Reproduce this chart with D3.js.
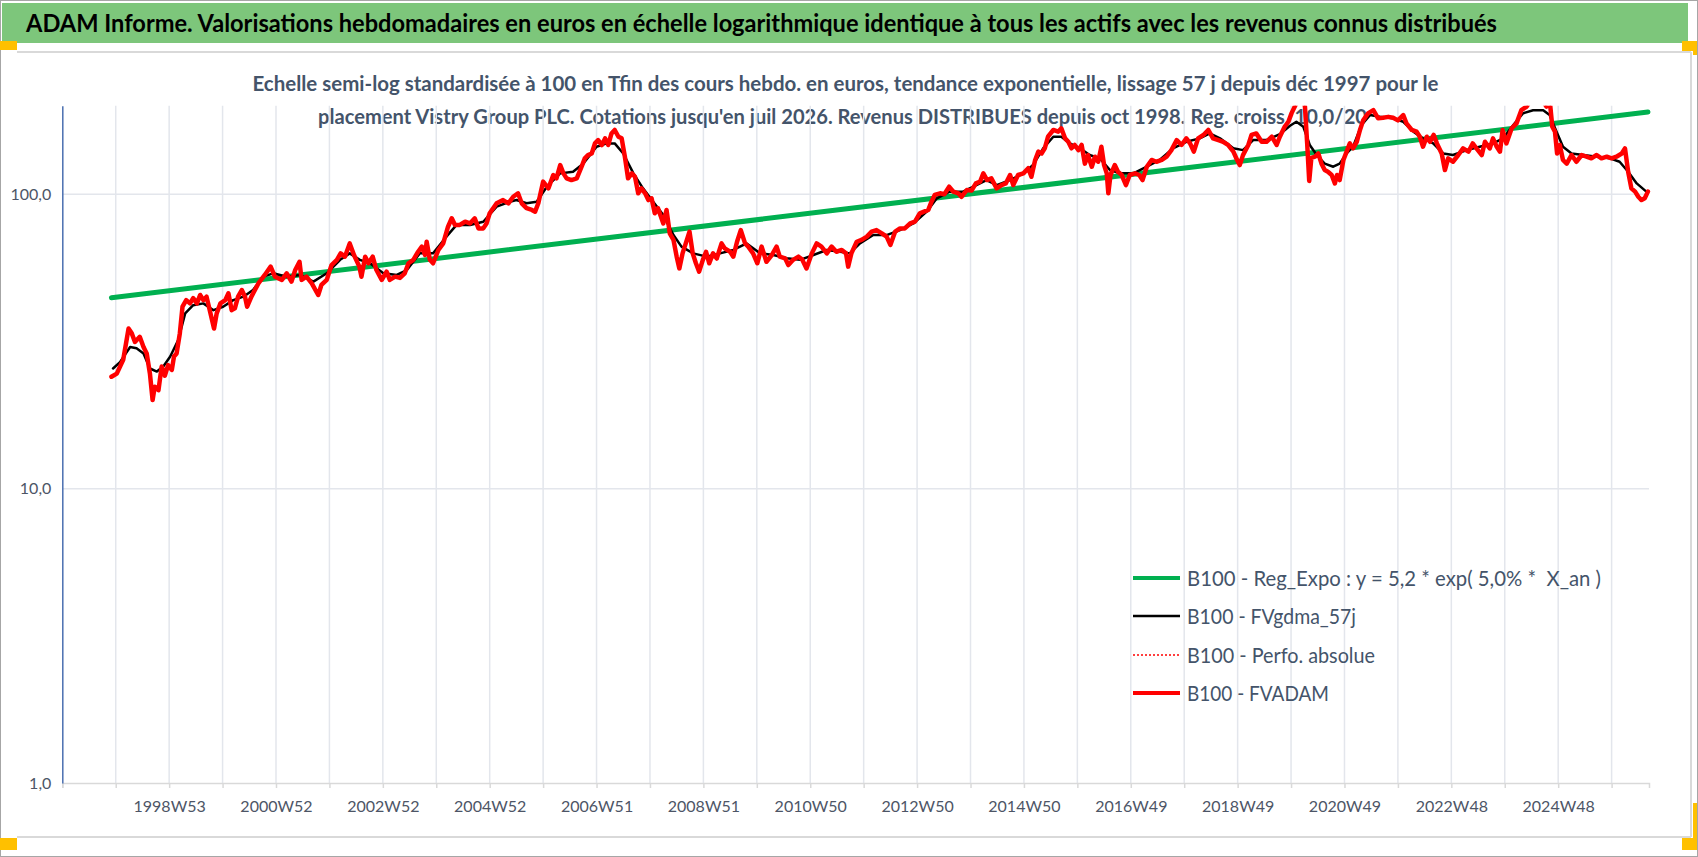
<!DOCTYPE html>
<html>
<head>
<meta charset="utf-8">
<script src="https://cdn.jsdelivr.net/npm/d3@7"></script>
<style>
  body { margin: 0; background: #fff; }
  svg { display: block; }
  text { font-family: Lato, "Open Sans", sans-serif; }
</style>
</head>
<body>
<div id="chart"></div>
<script>
// frame and plot area
const FRAME_WIDTH = 1698;
const FRAME_HEIGHT = 857;
const PLOT = {left: 62.3, right: 1649, top: 105.7, bottom: 783};

// texts
const TITLE = "ADAM Informe. Valorisations hebdomadaires en euros en échelle logarithmique identique à tous les actifs avec les revenus connus distribués";
const SUBTITLE = [
  "Echelle semi-log standardisée à 100 en Tfin des cours hebdo. en euros, tendance exponentielle, lissage 57 j depuis déc 1997 pour le",
  "placement Vistry Group PLC. Cotations jusqu'en juil 2026. Revenus DISTRIBUES depuis oct 1998. Reg. croiss. 10,0/20"
];
const LEGEND_LABELS = [
  "B100 - Reg_Expo : y = 5,2 * exp( 5,0% *  X_an )",
  "B100 - FVgdma_57j",
  "B100 - Perfo. absolue",
  "B100 - FVADAM"
];

// x axis: one gridline per 52 weeks, a label every 104 weeks
const X_START = 1997.0;
const X_END = 2026.70;
const X_TICK_LABELS = ["1998W53", "2000W52", "2002W52", "2004W52", "2006W51", "2008W51", "2010W50",
                       "2012W50", "2014W50", "2016W49", "2018W49", "2020W49", "2022W48", "2024W48"];
const X_LABEL_YEARS = d3.range(1999, 2026, 2);
const Y_TICKS = [1, 10, 100];

// B100 - FVADAM (weekly)
const fvadamDates = [
  1997.92, 1998.02, 1998.14, 1998.24, 1998.30, 1998.36, 1998.45, 1998.52, 1998.58, 1998.64,
  1998.69, 1998.73, 1998.80, 1998.86, 1998.92, 1998.98, 1999.05, 1999.09, 1999.14, 1999.20,
  1999.25, 1999.32, 1999.39, 1999.45, 1999.52, 1999.58, 1999.64, 1999.70, 1999.76, 1999.84,
  1999.89, 1999.96, 2000.05, 2000.11, 2000.17, 2000.23, 2000.29, 2000.36, 2000.42, 2000.46,
  2000.54, 2000.67, 2000.79, 2000.90, 2000.98, 2001.11, 2001.20, 2001.29, 2001.36, 2001.44,
  2001.48, 2001.57, 2001.67, 2001.79, 2001.85, 2001.95, 2002.04, 2002.14, 2002.21, 2002.29,
  2002.38, 2002.46, 2002.56, 2002.60, 2002.67, 2002.73, 2002.81, 2002.88, 2002.98, 2003.07,
  2003.13, 2003.23, 2003.32, 2003.41, 2003.48, 2003.57, 2003.66, 2003.73, 2003.79, 2003.82,
  2003.88, 2003.94, 2004.04, 2004.13, 2004.22, 2004.29, 2004.35, 2004.44, 2004.54, 2004.63,
  2004.72, 2004.79, 2004.88, 2004.94, 2005.00, 2005.13, 2005.25, 2005.35, 2005.44, 2005.53,
  2005.60, 2005.69, 2005.79, 2005.85, 2005.91, 2006.00, 2006.10, 2006.19, 2006.25, 2006.32,
  2006.38, 2006.44, 2006.53, 2006.63, 2006.72, 2006.78, 2006.84, 2006.91, 2006.97, 2007.03,
  2007.10, 2007.16, 2007.22, 2007.28, 2007.34, 2007.41, 2007.47, 2007.53, 2007.59, 2007.66,
  2007.72, 2007.78, 2007.84, 2007.91, 2007.97, 2008.03, 2008.09, 2008.15, 2008.25, 2008.31,
  2008.37, 2008.44, 2008.50, 2008.55, 2008.61, 2008.67, 2008.74, 2008.80, 2008.86, 2008.92,
  2008.99, 2009.05, 2009.11, 2009.18, 2009.25, 2009.34, 2009.40, 2009.50, 2009.56, 2009.63,
  2009.70, 2009.78, 2009.84, 2009.93, 2010.01, 2010.09, 2010.18, 2010.28, 2010.37, 2010.43,
  2010.53, 2010.59, 2010.68, 2010.78, 2010.85, 2010.93, 2011.03, 2011.12, 2011.21, 2011.31,
  2011.40, 2011.49, 2011.59, 2011.67, 2011.71, 2011.77, 2011.87, 2011.96, 2012.06, 2012.15,
  2012.24, 2012.34, 2012.43, 2012.50, 2012.59, 2012.68, 2012.77, 2012.87, 2012.96, 2013.05,
  2013.21, 2013.27, 2013.33, 2013.43, 2013.51, 2013.60, 2013.68, 2013.77, 2013.83, 2013.93,
  2014.02, 2014.10, 2014.18, 2014.24, 2014.31, 2014.39, 2014.49, 2014.58, 2014.66, 2014.74,
  2014.80, 2014.89, 2014.99, 2015.08, 2015.14, 2015.21, 2015.27, 2015.33, 2015.39, 2015.45,
  2015.55, 2015.64, 2015.70, 2015.77, 2015.83, 2015.89, 2015.95, 2016.02, 2016.08, 2016.14,
  2016.20, 2016.27, 2016.33, 2016.39, 2016.45, 2016.50, 2016.55, 2016.58, 2016.62, 2016.70,
  2016.76, 2016.83, 2016.91, 2016.98, 2017.08, 2017.16, 2017.22, 2017.30, 2017.39, 2017.48,
  2017.58, 2017.67, 2017.76, 2017.86, 2017.95, 2018.04, 2018.11, 2018.18, 2018.26, 2018.36,
  2018.45, 2018.54, 2018.64, 2018.73, 2018.82, 2018.92, 2018.99, 2019.04, 2019.10, 2019.20,
  2019.26, 2019.35, 2019.45, 2019.54, 2019.64, 2019.73, 2019.79, 2019.88, 2019.95, 2020.01,
  2020.07, 2020.16, 2020.23, 2020.26, 2020.30, 2020.34, 2020.38, 2020.45, 2020.51, 2020.57,
  2020.63, 2020.69, 2020.76, 2020.82, 2020.86, 2020.91, 2020.98, 2021.04, 2021.10, 2021.16,
  2021.23, 2021.29, 2021.35, 2021.44, 2021.54, 2021.63, 2021.72, 2021.82, 2021.91, 2022.00,
  2022.10, 2022.16, 2022.26, 2022.35, 2022.41, 2022.47, 2022.54, 2022.60, 2022.67, 2022.73,
  2022.82, 2022.88, 2022.94, 2023.03, 2023.13, 2023.22, 2023.32, 2023.40, 2023.47, 2023.57,
  2023.63, 2023.72, 2023.78, 2023.85, 2023.91, 2023.96, 2024.03, 2024.13, 2024.22, 2024.31,
  2024.41, 2024.53, 2024.66, 2024.78, 2024.84, 2024.89, 2024.94, 2024.98, 2025.03, 2025.09,
  2025.16, 2025.25, 2025.34, 2025.44, 2025.53, 2025.62, 2025.72, 2025.81, 2025.91, 2026.00,
  2026.09, 2026.19, 2026.25, 2026.31, 2026.37, 2026.44, 2026.50, 2026.56, 2026.62, 2026.68
];
const fvadamValues = [
  24.0, 24.6, 27.4, 35.0, 33.7, 31.5, 32.8, 30.3, 28.8, 24.6,
  20.0, 22.2, 21.6, 26.0, 24.2, 26.3, 25.3, 28.1, 28.8, 33.7,
  41.5, 43.7, 42.6, 44.4, 42.6, 45.5, 43.7, 44.9, 40.4, 35.0,
  39.4, 42.6, 43.7, 46.1, 40.4, 41.0, 44.9, 47.3, 44.9, 41.5,
  44.9, 49.8, 53.2, 56.8, 52.5, 51.2, 53.9, 50.5, 55.3, 59.0,
  51.2, 52.5, 49.8, 45.5, 49.2, 51.2, 57.5, 59.9, 63.0, 61.4,
  68.1, 62.2, 56.8, 52.5, 61.4, 58.3, 61.4, 55.3, 51.2, 54.6,
  51.2, 52.5, 52.0, 53.9, 58.3, 59.9, 63.8, 66.4, 62.2, 69.0,
  59.9, 58.3, 64.7, 68.1, 77.6, 82.9, 78.7, 78.7, 80.7, 79.6,
  82.9, 76.6, 76.6, 79.6, 86.2, 93.2, 95.6, 93.2, 98.1, 100.8,
  93.2, 89.7, 88.5, 87.3, 93.2, 110.4, 104.8, 116.3, 113.3, 125.7,
  117.8, 113.3, 111.8, 113.3, 124.1, 132.5, 135.9, 137.6, 148.9, 152.8,
  147.0, 154.9, 147.1, 161.0, 165.4, 156.9, 154.9, 134.2, 113.3, 117.8,
  114.7, 100.8, 104.8, 100.8, 95.6, 96.9, 86.2, 89.7, 79.6, 88.5,
  73.7, 70.0, 61.4, 56.0, 63.0, 68.1, 74.7, 63.0, 58.3, 54.6,
  59.9, 63.8, 58.3, 63.0, 60.5, 68.1, 65.5, 63.8, 61.4, 69.0,
  75.6, 68.1, 66.4, 63.0, 58.3, 66.4, 59.0, 62.2, 66.4, 61.4,
  60.6, 57.5, 59.9, 61.4, 60.0, 56.0, 63.0, 68.1, 66.4, 63.0,
  66.4, 63.8, 64.7, 63.0, 56.8, 63.0, 69.0, 70.0, 71.8, 74.7,
  75.6, 73.7, 71.8, 67.3, 74.7, 76.6, 76.6, 79.6, 80.7, 86.2,
  88.5, 94.4, 99.5, 100.8, 100.0, 106.1, 102.1, 100.8, 98.1, 103.4,
  103.0, 108.9, 110.4, 117.8, 111.8, 113.3, 104.8, 107.5, 108.9, 116.3,
  107.5, 116.3, 117.8, 122.6, 114.7, 130.8, 139.6, 137.6, 143.3, 156.9,
  165.4, 163.2, 167.6, 154.9, 150.8, 143.3, 147.1, 141.3, 147.1, 127.1,
  135.9, 124.1, 134.2, 129.0, 145.1, 125.7, 117.8, 100.8, 116.3, 125.7,
  119.3, 116.3, 107.5, 116.3, 117.8, 116.3, 111.8, 124.1, 130.8, 129.0,
  130.8, 134.2, 141.3, 152.8, 147.1, 154.9, 148.9, 139.6, 154.9, 159.1,
  165.4, 154.9, 152.8, 150.8, 147.1, 139.6, 130.8, 125.7, 135.9, 147.1,
  159.1, 161.0, 150.8, 150.8, 156.9, 147.1, 156.9, 169.6, 176.4, 188.7,
  198.7, 215.0, 215.0, 198.7, 150.8, 111.0, 133.0, 134.2, 137.6, 127.1,
  120.9, 119.3, 116.3, 108.9, 116.3, 111.8, 130.8, 139.6, 148.9, 143.3,
  150.8, 165.4, 178.3, 188.3, 193.1, 181.2, 182.0, 183.3, 182.0, 178.3,
  185.9, 174.2, 165.4, 163.2, 156.9, 145.1, 156.9, 150.8, 159.1, 148.9,
  137.6, 120.9, 132.5, 129.0, 136.0, 143.3, 139.6, 148.9, 143.3, 136.0,
  150.8, 143.3, 154.9, 145.1, 139.6, 165.4, 148.9, 167.6, 174.2, 193.1,
  198.7, 215.0, 215.0, 198.7, 210.0, 169.6, 163.2, 137.6, 147.1, 130.8,
  127.1, 136.0, 129.0, 136.0, 134.2, 132.5, 136.0, 132.5, 134.2, 132.5,
  134.2, 137.6, 143.3, 119.3, 104.8, 102.1, 98.1, 95.6, 96.9, 102.1
];

// B100 - FVgdma_57j (smoothed)
const fvgdmaDates = [
  1997.95, 1998.08, 1998.27, 1998.39, 1998.52, 1998.64, 1998.77, 1998.89, 1999.02, 1999.17,
  1999.30, 1999.45, 1999.64, 1999.83, 2000.01, 2000.20, 2000.39, 2000.57, 2000.76, 2000.95,
  2001.20, 2001.45, 2001.70, 2001.95, 2002.20, 2002.38, 2002.57, 2002.76, 2003.01, 2003.26,
  2003.45, 2003.69, 2003.94, 2004.19, 2004.38, 2004.63, 2004.88, 2005.13, 2005.38, 2005.50,
  2005.69, 2005.88, 2006.07, 2006.32, 2006.56, 2006.75, 2007.00, 2007.19, 2007.34, 2007.50,
  2007.69, 2007.87, 2008.06, 2008.25, 2008.44, 2008.59, 2008.81, 2009.06, 2009.31, 2009.56,
  2009.81, 2010.06, 2010.31, 2010.56, 2010.81, 2011.06, 2011.31, 2011.56, 2011.74, 2011.93,
  2012.18, 2012.43, 2012.68, 2012.93, 2013.18, 2013.37, 2013.61, 2013.86, 2014.11, 2014.30,
  2014.49, 2014.74, 2014.99, 2015.17, 2015.36, 2015.55, 2015.70, 2015.86, 2016.05, 2016.23,
  2016.42, 2016.61, 2016.80, 2017.05, 2017.30, 2017.54, 2017.79, 2018.04, 2018.29, 2018.48,
  2018.67, 2018.92, 2019.10, 2019.29, 2019.54, 2019.79, 2019.98, 2020.10, 2020.23, 2020.35,
  2020.48, 2020.63, 2020.79, 2020.91, 2021.04, 2021.16, 2021.32, 2021.48, 2021.66, 2021.91,
  2022.10, 2022.29, 2022.47, 2022.66, 2022.85, 2023.03, 2023.29, 2023.53, 2023.78, 2023.97,
  2024.16, 2024.34, 2024.53, 2024.72, 2024.84, 2024.97, 2025.09, 2025.25, 2025.47, 2025.72,
  2025.97, 2026.15, 2026.31, 2026.47, 2026.65
];
const fvgdmaValues = [
  25.6, 26.9, 30.3, 30.0, 28.8, 25.6, 25.0, 26.0, 28.1, 32.0,
  39.4, 42.0, 42.6, 40.4, 41.5, 43.7, 44.9, 47.3, 52.5, 53.9,
  52.5, 53.2, 50.5, 53.9, 59.9, 63.0, 59.9, 58.3, 53.9, 53.2,
  55.3, 63.0, 63.0, 71.8, 78.7, 78.7, 80.7, 90.8, 94.4, 95.6,
  93.2, 94.4, 106.1, 117.8, 119.3, 127.1, 145.1, 148.9, 148.9, 137.6,
  117.8, 104.8, 94.4, 85.0, 72.7, 66.4, 63.0, 61.4, 63.0, 64.7,
  68.1, 63.0, 62.2, 60.6, 59.9, 62.2, 64.7, 63.8, 63.0, 68.1,
  72.7, 72.7, 75.6, 79.6, 87.3, 96.9, 102.1, 102.1, 107.5, 111.8,
  107.5, 111.8, 117.8, 125.7, 143.3, 156.9, 156.9, 148.9, 143.3, 136.0,
  132.5, 120.9, 117.8, 117.8, 124.1, 130.8, 143.3, 150.8, 154.9, 161.0,
  154.9, 143.3, 141.3, 152.8, 152.8, 160.0, 171.0, 176.4, 169.6, 147.1,
  136.0, 127.1, 124.1, 127.1, 137.6, 145.1, 171.9, 185.9, 183.3, 181.2,
  176.4, 163.2, 154.9, 148.9, 137.6, 136.0, 141.3, 145.1, 148.9, 154.9,
  171.9, 188.3, 193.1, 193.1, 185.9, 163.2, 145.1, 137.6, 136.0, 134.2,
  132.5, 129.0, 119.3, 108.9, 102.1
];

// B100 - Reg_Expo (straight line on the log scale, ends)
const regDates = [1997.92, 2026.68];
const regValues = [44.5, 190.5];

// scales
const X_SCALE = d3.scaleLinear().domain([X_START, X_END]).range([PLOT.left, PLOT.right]);
const Y_SCALE = d3.scaleLog().domain([1, 200]).range([PLOT.bottom, PLOT.top]);

const FRAME1 = d3.select("#chart")
  .append("svg")
    .attr("width", FRAME_WIDTH)
    .attr("height", FRAME_HEIGHT);

// outer frame, title bar, selection handles
FRAME1.append("rect")
  .attr("x", 0.5).attr("y", 0.5)
  .attr("width", FRAME_WIDTH - 1).attr("height", FRAME_HEIGHT - 1)
  .attr("fill", "#fff").attr("stroke", "#a6a6a6");

FRAME1.append("rect")
  .attr("x", 2).attr("y", 3).attr("width", 1686).attr("height", 40)
  .attr("fill", "#7dc67b");

FRAME1.append("text")
  .attr("x", 26).attr("y", 32)
  .attr("textLength", 1471).attr("lengthAdjust", "spacingAndGlyphs")
  .attr("font-size", 25).attr("font-weight", "bold").attr("fill", "#000")
  .text(TITLE);

const BOX = FRAME1.append("g").attr("stroke", "#d9d9d9").attr("stroke-width", 2);
BOX.append("line").attr("x1", 17).attr("x2", 1691).attr("y1", 52).attr("y2", 52);
BOX.append("line").attr("x1", 17).attr("x2", 1691).attr("y1", 837).attr("y2", 837);
BOX.append("line").attr("x1", 1691).attr("x2", 1691).attr("y1", 52).attr("y2", 837);

const HANDLES = [[0, 41, 17, 9], [1682, 41, 15, 10], [1693, 41, 4, 14],
                 [0, 838, 17, 12], [1682, 838, 15, 12], [1693, 803, 4, 47]];
FRAME1.selectAll(".handle")
  .data(HANDLES)
  .enter()
  .append("rect")
    .attr("x", (d) => d[0]).attr("y", (d) => d[1])
    .attr("width", (d) => d[2]).attr("height", (d) => d[3])
    .attr("fill", "#ffc000");

// subtitle
const SUB_LAYOUT = [{x: 252.5, y: 91, len: 1186}, {x: 318, y: 124, len: 1049}];
FRAME1.selectAll(".subtitle")
  .data(SUBTITLE)
  .enter()
  .append("text")
    .attr("x", (d, i) => SUB_LAYOUT[i].x)
    .attr("y", (d, i) => SUB_LAYOUT[i].y)
    .attr("textLength", (d, i) => SUB_LAYOUT[i].len)
    .attr("lengthAdjust", "spacingAndGlyphs")
    .attr("font-size", 20.5).attr("font-weight", "bold").attr("fill", "#44546a")
    .text((d) => d);

// gridlines
const GRID_YEARS = d3.range(X_START + 1, Math.floor(X_END) + 1);
FRAME1.append("g")
  .selectAll("line")
  .data(GRID_YEARS)
  .enter()
  .append("line")
    .attr("x1", (d) => X_SCALE(d)).attr("x2", (d) => X_SCALE(d))
    .attr("y1", PLOT.top).attr("y2", PLOT.bottom)
    .attr("stroke", "#e3e6ec").attr("stroke-width", 1.5);

FRAME1.append("g")
  .selectAll("line")
  .data(Y_TICKS.slice(1))
  .enter()
  .append("line")
    .attr("x1", PLOT.left).attr("x2", PLOT.right)
    .attr("y1", (d) => Y_SCALE(d)).attr("y2", (d) => Y_SCALE(d))
    .attr("stroke", "#e3e6ec").attr("stroke-width", 1.5);

// x axis
const X_AXIS = FRAME1.append("g")
  .attr("transform", "translate(0," + PLOT.bottom + ")")
  .call(d3.axisBottom(X_SCALE)
    .tickValues(d3.range(X_START, Math.floor(X_END) + 1))
    .tickSize(5)
    .tickPadding(13)
    .tickFormat((d) => {
      const i = X_LABEL_YEARS.indexOf(d);
      return i >= 0 ? X_TICK_LABELS[i] : "";
    }));
X_AXIS.select(".domain").attr("stroke", "#d9d9d9").attr("stroke-width", 1.5);
X_AXIS.selectAll(".tick line").attr("stroke", "#d9d9d9").attr("stroke-width", 1.5);
X_AXIS.selectAll(".tick text")
  .attr("font-size", 16).attr("fill", "#4d5566")
  .attr("font-family", "Lato, 'Open Sans', sans-serif");

// y axis
const Y_AXIS = FRAME1.append("g")
  .attr("transform", "translate(" + PLOT.left + ",0)")
  .call(d3.axisLeft(Y_SCALE)
    .tickValues(Y_TICKS)
    .tickSize(0)
    .tickPadding(11)
    .tickFormat((d) => d3.format(".1f")(d).replace(".", ",")));
Y_AXIS.select(".domain").attr("stroke", "#4a6fb0").attr("stroke-width", 1.5);
Y_AXIS.selectAll(".tick text")
  .attr("font-size", 16).attr("fill", "#4d5566")
  .attr("font-family", "Lato, 'Open Sans', sans-serif");

// plot area clip
FRAME1.append("clipPath").attr("id", "plot-clip")
  .append("rect")
    .attr("x", PLOT.left).attr("y", PLOT.top)
    .attr("width", PLOT.right - PLOT.left + 3).attr("height", PLOT.bottom - PLOT.top);

const LINE = d3.line()
  .x((d) => X_SCALE(d[0]))
  .y((d) => Y_SCALE(d[1]));

const SERIES = [
  {data: d3.zip(regDates, regValues), color: "#00b050", width: 5, dash: null},
  {data: d3.zip(fvgdmaDates, fvgdmaValues), color: "#000000", width: 2.5, dash: null},
  {data: d3.zip(fvadamDates, fvadamValues), color: "#ff0000", width: 1.5, dash: "2,2"},
  {data: d3.zip(fvadamDates, fvadamValues), color: "#ff0000", width: 4.5, dash: null}
];

FRAME1.append("g")
  .attr("clip-path", "url(#plot-clip)")
  .selectAll("path")
  .data(SERIES)
  .enter()
  .append("path")
    .attr("d", (d) => LINE(d.data))
    .attr("fill", "none")
    .attr("stroke", (d) => d.color)
    .attr("stroke-width", (d) => d.width)
    .attr("stroke-dasharray", (d) => d.dash)
    .attr("stroke-linejoin", "round")
    .attr("stroke-linecap", "round");

// legend
const LEGEND_Y = [578, 616, 655, 693];
const LEGEND_LEN = [414, 169, 188, 142];
const LEGEND = FRAME1.append("g");
LEGEND.selectAll("line")
  .data(SERIES)
  .enter()
  .append("line")
    .attr("x1", 1133).attr("x2", 1180)
    .attr("y1", (d, i) => LEGEND_Y[i]).attr("y2", (d, i) => LEGEND_Y[i])
    .attr("stroke", (d) => d.color)
    .attr("stroke-width", (d) => Math.min(d.width, 4))
    .attr("stroke-dasharray", (d) => d.dash);
LEGEND.selectAll("text")
  .data(LEGEND_LABELS)
  .enter()
  .append("text")
    .attr("x", 1187)
    .attr("y", (d, i) => LEGEND_Y[i] + 8)
    .attr("textLength", (d, i) => LEGEND_LEN[i])
    .attr("lengthAdjust", "spacingAndGlyphs")
    .attr("font-size", 20.5).attr("fill", "#44546a")
    .style("white-space", "pre")
    .text((d) => d);
</script>
</body>
</html>
